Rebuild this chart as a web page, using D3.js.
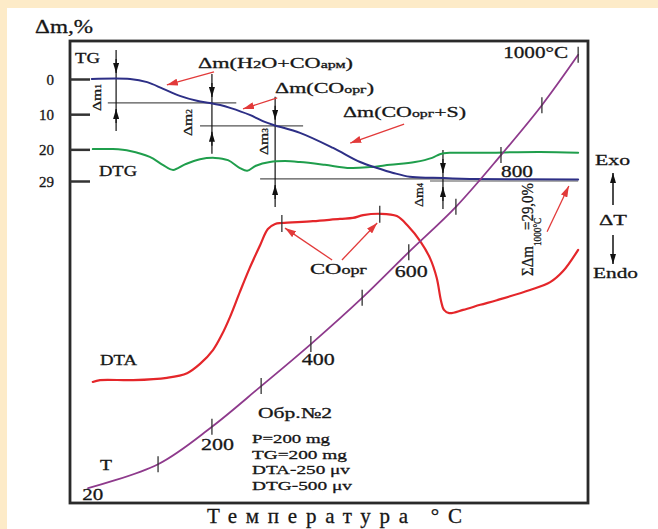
<!DOCTYPE html>
<html>
<head>
<meta charset="utf-8">
<script src="https://cdn.jsdelivr.net/npm/d3@7"></script>
<style>
body { margin: 0; background: #fdebc8; }
svg { display: block; font-family: "Liberation Serif", "Times New Roman", serif; }
</style>
</head>
<body>
<svg id="chart" width="658" height="529"></svg>
<script>
// time runs 0..100 across the frame (arbitrary units), signals in arbitrary levels 0..100
// TG: mass loss, %
var tgTime = [4.2, 11.6, 14.9, 18.0, 21.2, 24.5, 27.0, 29.0, 30.9, 34.7, 37.6, 39.6, 44.4, 50.8, 56.0, 59.3, 62.4, 65.6, 70.1, 77.2, 98.1];
var tgLoss = [0, 0, 0.9, 2.8, 4.8, 6.2, 6.8, 7.4, 8.2, 10.2, 12.2, 13.2, 15.3, 19.6, 23.6, 25.3, 26.7, 27.8, 28.1, 28.4, 28.6];

// DTG
var dtgTime = [4.4, 8.3, 11.6, 15.4, 17.9, 19.9, 22.2, 25.1, 28.0, 30.5, 32.8, 34.2, 35.9, 38.6, 41.5, 44.4, 49.2, 54.1, 57.9, 61.8, 66.6, 69.9, 71.4, 73.4, 79.2, 90.7, 98.1];
var dtgLevel = [76.6, 76.6, 76.2, 74.9, 73.2, 72.1, 73.3, 74.4, 74.7, 74.2, 72.5, 71.9, 73.0, 73.8, 74.0, 73.8, 73.2, 72.5, 72.7, 73.2, 73.8, 74.7, 75.5, 75.8, 75.8, 76.0, 75.8];

// DTA
var dtaTime = [4.4, 5.8, 12.2, 18.7, 22.6, 25.1, 27.6, 29.3, 30.9, 32.8, 34.7, 36.7, 38.2, 39.6, 40.9, 46.9, 52.1, 54.6, 56.6, 59.8, 63.1, 65.3, 67.6, 69.5, 70.8, 71.6, 72.2, 73.2, 75.9, 79.2, 82.4, 88.8, 92.7, 95.2, 98.1];
var dtaLevel = [26.2, 26.6, 26.6, 27.1, 28.1, 30.1, 33.1, 36.4, 40.3, 45.7, 50.9, 55.8, 59.3, 60.4, 60.6, 61.0, 61.5, 61.7, 62.3, 62.6, 62.1, 59.9, 56.7, 53.0, 48.7, 43.9, 41.8, 41.1, 41.8, 42.9, 43.9, 46.1, 47.8, 50.2, 54.8];
var dtaPeakTime = [40.9, 59.8];
var dtaPeakLevel = [60.6, 62.6];

// T (heating curve), one point per 100 degC
var tTime = [3.5, 17.0, 27.4, 36.9, 46.5, 56.4, 65.4, 74.5, 83.2, 91.1, 98.1];
var tLevel = [3.2, 8.4, 16.5, 25.3, 34.4, 44.4, 54.3, 64.1, 75.3, 86.1, 97.0];
var tTemp = [20, 100, 200, 300, 400, 500, 600, 700, 800, 900, 1000];
var tLabelTemps = [20, 200, 400, 600, 800, 1000];
var tLabelText = ['20', '200', '400', '600', '800', '1000°C'];

// mass axis
var massTicks = [0, 10, 20, 29];
// mass-loss steps: time of the measuring arrow, upper and lower level
var stepTime = [8.9, 27.4, 39.6, 72.0];
var stepFrom = [0, 6.8, 13.3, 28.4];
var stepTo = [6.8, 13.3, 28.4, 29];

var tgColor = '#2d2f86', dtgColor = '#1f9e4c', dtaColor = '#e4262a', tColor = '#8e3a8c';
var annColor = '#e23a3a';
var ink = '#161616';

var svg = d3.select('#chart');
svg.append('rect').attr('x', 7).attr('y', 8).attr('width', 651).attr('height', 521).attr('fill', '#fff');

var x = d3.scaleLinear().domain([0, 100]).range([70, 588]);
var yMass = d3.scaleLinear().domain([0, 29]).range([79, 181]);
var yLevel = d3.scaleLinear().domain([0, 100]).range([503, 41]);

var defs = svg.append('defs');
function marker(id, color, w, h) {
    defs.append('marker')
        .attr('id', id)
        .attr('markerUnits', 'userSpaceOnUse')
        .attr('viewBox', '0 0 ' + w + ' ' + h)
        .attr('markerWidth', w).attr('markerHeight', h)
        .attr('refX', w).attr('refY', h / 2)
        .attr('orient', 'auto')
        .append('path')
        .attr('d', 'M0,0L' + w + ',' + (h / 2) + 'L0,' + h + 'Z')
        .attr('fill', color);
}
marker('arrRed', annColor, 11, 7);
marker('arrBlack', '#111', 10, 6);

// frame
svg.append('rect')
    .attr('x', x(0)).attr('y', yLevel(100))
    .attr('width', x(100) - x(0)).attr('height', yLevel(0) - yLevel(100))
    .attr('fill', 'none').attr('stroke', '#2a2a2a').attr('stroke-width', 2.8);

// mass axis
var axis = d3.axisLeft(yMass).tickValues(massTicks).tickSizeInner(-20).tickSizeOuter(0).tickPadding(16);
var ag = svg.append('g').attr('transform', 'translate(' + x(0) + ',0)').call(axis);
ag.select('.domain').remove();
ag.attr('font-family', null).attr('font-size', null);
ag.selectAll('line').attr('stroke', '#333').attr('stroke-width', 2.5);
ag.selectAll('text').attr('font-size', 15).attr('fill', ink)
    .attr('stroke', ink).attr('stroke-width', 0.3).attr('dy', '0.34em');

// measuring lines for the mass-loss steps
var gray = svg.append('g').attr('stroke', '#555').attr('stroke-width', 1.2);
gray.append('line').attr('x1', x(7.3)).attr('x2', x(32.1)).attr('y1', yMass(6.8)).attr('y2', yMass(6.8));
gray.append('line').attr('x1', x(25.1)).attr('x2', x(45.0)).attr('y1', yMass(13.3)).attr('y2', yMass(13.3));
gray.append('line').attr('x1', x(36.7)).attr('x2', x(79.0)).attr('y1', yMass(28.4)).attr('y2', yMass(28.4));
gray.append('line').attr('x1', x(69.5)).attr('x2', x(98.1)).attr('y1', yMass(29)).attr('y2', yMass(29));

var steps = svg.append('g').attr('stroke', '#111').attr('stroke-width', 1.2);
stepTime.forEach(function(t, i) {
    var sx = x(t), y1 = yMass(stepFrom[i]), y2 = yMass(stepTo[i]);
    steps.append('line').attr('x1', sx).attr('x2', sx).attr('y1', y1 - 29).attr('y2', y2 + 28);
    steps.append('line').attr('x1', sx).attr('x2', sx).attr('y1', y1 - 20).attr('y2', y1 - 6).attr('marker-end', 'url(#arrBlack)');
    steps.append('line').attr('x1', sx).attr('x2', sx).attr('y1', y2 + 20).attr('y2', y2 + 6).attr('marker-end', 'url(#arrBlack)');
});

// curves
function curve(xs, ys, yScale, color, width) {
    var line = d3.line()
        .x(function(d, i) { return x(xs[i]); })
        .y(function(d) { return yScale(d); })
        .curve(d3.curveCatmullRom.alpha(0.5));
    svg.append('path').datum(ys).attr('d', line)
        .attr('fill', 'none').attr('stroke', color).attr('stroke-width', width)
        .attr('stroke-linejoin', 'round').attr('stroke-linecap', 'round');
}
curve(dtgTime, dtgLevel, yLevel, dtgColor, 2);
curve(tgTime, tgLoss, yMass, tgColor, 2);
curve(dtaTime, dtaLevel, yLevel, dtaColor, 2.2);
curve(tTime, tLevel, yLevel, tColor, 1.8);

// temperature ticks on T
var ticks = svg.append('g').attr('stroke', '#333').attr('stroke-width', 1.3);
tTime.forEach(function(t, i) {
    if (i === 0) return;
    ticks.append('line').attr('x1', x(t)).attr('x2', x(t))
        .attr('y1', yLevel(tLevel[i]) - 8).attr('y2', yLevel(tLevel[i]) + 8);
});
dtaPeakTime.forEach(function(t, i) {
    ticks.append('line').attr('x1', x(t)).attr('x2', x(t))
        .attr('y1', yLevel(dtaPeakLevel[i]) - 8).attr('y2', yLevel(dtaPeakLevel[i]) + 9);
});

// red annotation arrows: [t0, v0, t1, v1, scale]
var arrows = [
    [27.8, -2.0, 18.7, 1.7, yMass],
    [40.0, 5.4, 33.4, 8.5, yMass],
    [64.5, 12.8, 54.1, 18.2, yMass],
    [92.1, 58.7, 96.3, 68.6, yLevel],
    [50.6, 52.6, 41.5, 59.5, yLevel],
    [52.5, 52.6, 59.3, 60.6, yLevel]
];
arrows.forEach(function(a) {
    svg.append('line')
        .attr('x1', x(a[0])).attr('y1', a[4](a[1]))
        .attr('x2', x(a[2])).attr('y2', a[4](a[3]))
        .attr('stroke', annColor).attr('stroke-width', 1.3)
        .attr('marker-end', 'url(#arrRed)');
});

// Exo / Endo arrows
svg.append('line').attr('x1', 613).attr('x2', 613).attr('y1', 205).attr('y2', 173)
    .attr('stroke', '#111').attr('stroke-width', 1.5).attr('marker-end', 'url(#arrBlack)');
svg.append('line').attr('x1', 613).attr('x2', 613).attr('y1', 235).attr('y2', 264)
    .attr('stroke', '#111').attr('stroke-width', 1.5).attr('marker-end', 'url(#arrBlack)');

// text helper: parts = [[text, relSize, dy, dx]]
function label(parts, size, len, transform, adjust) {
    var t = svg.append('text')
        .attr('transform', transform)
        .attr('font-size', size)
        .attr('fill', ink)
        .attr('stroke', ink).attr('stroke-width', 0.3)
        .attr('textLength', len)
        .attr('lengthAdjust', adjust || 'spacingAndGlyphs');
    parts.forEach(function(p) {
        var s = t.append('tspan').text(p[0]);
        if (p[1]) s.attr('font-size', size * p[1]);
        if (p[2]) s.attr('dy', p[2]);
        if (p[3]) s.attr('dx', p[3]);
    });
    return t;
}
function at(px, py) { return 'translate(' + px + ',' + py + ')'; }
function up(px, py) { return 'translate(' + px + ',' + py + ') rotate(-90)'; }

label([['Δm,%']], 19, 58, at(35, 33));
label([['TG']], 14, 25, at(75, 63));
label([['DTG']], 14, 38, at(99, 176));
label([['DTA']], 14, 37, at(100, 365));
label([['T']], 15, 12, at(100, 470));
label([['Δm(H'], ['2', 0.75], ['O+CO'], ['арм', 0.72], [')']], 15, 155, at(198, 68));
label([['Δm(CO'], ['орг', 0.72], [')']], 15, 99, at(275, 93));
label([['Δm(CO'], ['орг', 0.72], ['+S)']], 15, 123, at(343, 117));
label([['CO'], ['орг', 0.8]], 15, 57, at(310, 274));
label([['Обр.№2']], 15, 74, at(258, 418));
label([['P=200 mg']], 13.5, 78, at(252, 443));
label([['TG=200 mg']], 13.5, 95, at(252, 459));
label([['DTA-250 μv']], 13.5, 98, at(252, 474));
label([['DTG-500 μv']], 13.5, 100, at(252, 490));
label([['Exo']], 15, 35, at(595, 165));
label([['ΔT']], 15, 28, at(599, 225));
label([['Endo']], 15, 45, at(593, 278));
label([['Температура °C']], 21, 255, at(207, 523), 'spacing');

// step labels (rotated)
label([['Δm'], ['1', 0.6]], 13, 27, up(101, 111));
label([['Δm'], ['2', 0.6]], 13, 27, up(192, 136));
label([['Δm'], ['3', 0.6]], 13, 27, up(268, 155));
label([['Δm'], ['4', 0.6]], 13, 24, up(423, 207));
label([['ΣΔm'], ['1000°C', 0.62, 8], ['=29,0%', 1, -8, -14]], 17, 93, up(533, 276));

// temperature labels
var tLabelOffset = [[-6, 12], [-11, 23], [-9, 21], [-14, 25], [0, 22], [-75, 3]];
var tLabelLen = [21, 33, 33, 33, 32, 65];
tLabelTemps.forEach(function(temp, i) {
    var k = tTemp.indexOf(temp);
    label([[tLabelText[i]]], 17.5, tLabelLen[i],
        at(x(tTime[k]) + tLabelOffset[i][0], yLevel(tLevel[k]) + tLabelOffset[i][1]));
});
</script>
</body>
</html>
